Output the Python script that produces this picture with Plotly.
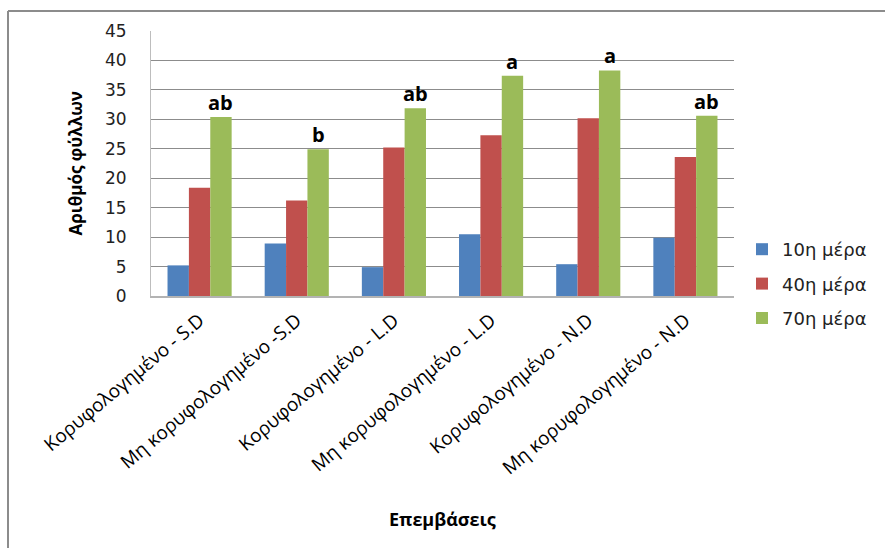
import plotly.graph_objects as go

# Treatments (x categories)
categories = [
    "Κορυφολογημένο - S.D",
    "Μη κορυφολογημένο -S.D",
    "Κορυφολογημένο - L.D",
    "Μη κορυφολογημένο - L.D",
    "Κορυφολογημένο - N.D",
    "Μη κορυφολογημένο - N.D",
]

# Number of leaves per sampling day
day10 = [5.2, 8.9, 4.9, 10.5, 5.4, 9.9]
day40 = [18.4, 16.2, 25.2, 27.3, 30.2, 23.6]
day70 = [30.4, 24.9, 31.9, 37.4, 38.3, 30.6]

# Significance letters shown above the 70th-day bars
letters = ["ab", "b", "ab", "a", "a", "ab"]

series_names = ["10η μέρα", "40η μέρα", "70η μέρα"]
series_colors = ["#4F81BD", "#C0504D", "#9BBB59"]
y_ticks = [0, 5, 10, 15, 20, 25, 30, 35, 40, 45]

# Plot-area geometry in pixels
W, H = 885, 548
L, R, T, B = 151, 151, 31, 252
PW, PH = W - L - R, H - T - B


def px_x(p):
    return (p - L) / PW


def px_y(p):
    return (H - B - p) / PH


fig = go.Figure()
for name, vals, col in zip(series_names, [day10, day40, day70], series_colors):
    fig.add_trace(go.Bar(
        x=categories, y=vals, name=name,
        marker=dict(color=col, line=dict(width=0)),
        legendgroup=name,
    ))

# Letters above the 70th-day bars (third bar of each group)
bar_w = PW / len(categories) * 0.66 / 3
for cat, v, lab in zip(categories, day70, letters):
    fig.add_annotation(
        x=cat, y=v, xref="x", yref="y", text=f"<b>{lab}</b>",
        showarrow=False, yanchor="bottom", xanchor="center",
        xshift=bar_w, yshift=-1,
        font=dict(family="Open Sans", size=20, color="#000000"),
    )

# Axis titles
fig.add_annotation(
    x=px_x(75), y=0.5, xref="paper", yref="paper",
    text="<b>Αριθμός φύλλων</b>", textangle=-90, showarrow=False,
    xanchor="center", yanchor="middle",
    font=dict(family="Open Sans", size=17, color="#000000"),
)
fig.add_annotation(
    x=0.5, y=px_y(519), xref="paper", yref="paper",
    text="<b>Επεμβάσεις</b>", showarrow=False,
    xanchor="center", yanchor="middle",
    font=dict(family="Open Sans", size=18, color="#000000"),
)

# Chart frame (top and left edges)
frame = dict(color="#8c8c8c", width=2)
fig.add_shape(type="line", xref="paper", yref="paper",
              x0=px_x(8), x1=px_x(885), y0=px_y(11), y1=px_y(11), line=frame)
fig.add_shape(type="line", xref="paper", yref="paper",
              x0=px_x(8), x1=px_x(8), y0=px_y(11), y1=px_y(548), line=frame)

fig.update_layout(
    width=W, height=H,
    margin=dict(l=L, r=R, t=T, b=B, pad=0),
    paper_bgcolor="#ffffff", plot_bgcolor="#ffffff",
    barmode="group", bargap=0.34, bargroupgap=0,
    font=dict(family="Open Sans", color="#000000"),
    legend=dict(
        x=px_x(742), y=px_y(284), xanchor="left", yanchor="middle",
        font=dict(family="DejaVu Sans", size=18, color="#222222"),
        tracegroupgap=8, itemclick=False, bgcolor="rgba(0,0,0,0)",
    ),
    showlegend=True,
)

fig.update_xaxes(
    type="category", tickangle=-40,
    tickfont=dict(family="Open Sans", size=19, color="#000000"),
    showgrid=False, showline=True, linecolor="#b3b3b3", linewidth=2,
    ticks="", ticklabelstandoff=4,
)
fig.update_yaxes(
    range=[0, 45], tickvals=y_ticks,
    tickfont=dict(family="DejaVu Sans", size=17, color="#222222"),
    showgrid=True, gridcolor="#8c8c8c", gridwidth=1,
    showline=True, linecolor="#bdbdbd", linewidth=1,
    zeroline=False, ticks="", ticklabelstandoff=20,
)

fig.write_html("out.html")
